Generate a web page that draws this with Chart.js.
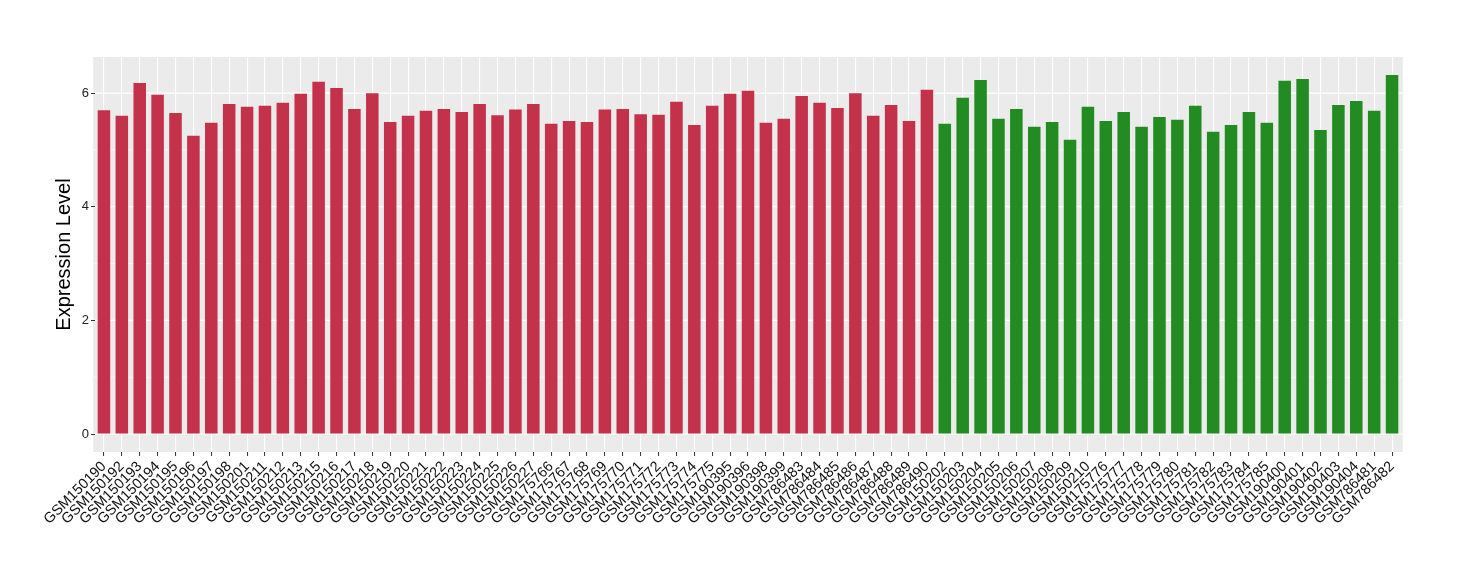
<!DOCTYPE html>
<html>
<head>
<meta charset="utf-8">
<script src="https://cdn.jsdelivr.net/npm/chart.js@4.4.1/dist/chart.umd.min.js"></script>
<style>
  html, body { margin: 0; padding: 0; background: #ffffff; }
  #wrap { width: 1460px; height: 580px; position: relative; }
</style>
</head>
<body>
<div id="wrap"><canvas id="c" width="1460" height="580"></canvas></div>
<script>
const groupASamples = ["GSM150190","GSM150192","GSM150193","GSM150194","GSM150195","GSM150196","GSM150197","GSM150198","GSM150201","GSM150211","GSM150212","GSM150213","GSM150215","GSM150216","GSM150217","GSM150218","GSM150219","GSM150220","GSM150221","GSM150222","GSM150223","GSM150224","GSM150225","GSM150226","GSM150227","GSM175766","GSM175767","GSM175768","GSM175769","GSM175770","GSM175771","GSM175772","GSM175773","GSM175774","GSM175775","GSM190395","GSM190396","GSM190398","GSM190399","GSM786483","GSM786484","GSM786485","GSM786486","GSM786487","GSM786488","GSM786489","GSM786490"];
const groupAValues = [5.70,5.60,6.18,5.97,5.65,5.25,5.48,5.81,5.76,5.78,5.83,5.99,6.20,6.09,5.72,6.00,5.49,5.60,5.69,5.72,5.67,5.81,5.61,5.71,5.81,5.46,5.51,5.49,5.71,5.72,5.63,5.62,5.85,5.44,5.78,5.99,6.04,5.48,5.55,5.95,5.83,5.74,6.00,5.60,5.79,5.51,6.06];
const groupBSamples = ["GSM150202","GSM150203","GSM150204","GSM150205","GSM150206","GSM150207","GSM150208","GSM150209","GSM150210","GSM175776","GSM175777","GSM175778","GSM175779","GSM175780","GSM175781","GSM175782","GSM175783","GSM175784","GSM175785","GSM190400","GSM190401","GSM190402","GSM190403","GSM190404","GSM786481","GSM786482"];
const groupBValues = [5.46,5.92,6.23,5.55,5.72,5.41,5.49,5.18,5.76,5.51,5.67,5.41,5.58,5.53,5.78,5.32,5.44,5.67,5.48,6.22,6.25,5.35,5.79,5.86,5.69,6.32];
const yTickValues = [0,1,2,3,4,5,6];
const yLabelValues = [0,2,4,6];
const yTitle = "Expression Level";

const categories = groupASamples.concat(groupBSamples);
const dataA = groupAValues.concat(groupBSamples.map(() => null));
const dataB = groupASamples.map(() => null).concat(groupBValues);
const yMin = -0.316, yMax = 6.636;

const panelPlugin = {
  id: 'panel',
  beforeDraw(chart) {
    const {ctx, chartArea, scales} = chart;
    const ext = (chartArea.right - chartArea.left) / categories.length * 0.1;
    const left = chartArea.left - ext, right = chartArea.right + ext;
    ctx.save();
    ctx.fillStyle = '#EBEBEB';
    ctx.fillRect(left, chartArea.top, right - left, chartArea.bottom - chartArea.top);
    ctx.strokeStyle = '#FFFFFF';
    yTickValues.forEach(v => {
      const y = scales.y.getPixelForValue(v);
      const major = yLabelValues.includes(v);
      ctx.lineWidth = major ? 1.1 : 0.55;
      ctx.beginPath();
      ctx.moveTo(left, y);
      ctx.lineTo(right, y);
      ctx.stroke();
    });
    ctx.restore();
  }
};

new Chart(document.getElementById('c'), {
  type: 'bar',
  data: {
    labels: categories,
    datasets: [
      { data: dataA, backgroundColor: '#C3314A', barPercentage: 0.7, categoryPercentage: 1.0, grouped: false },
      { data: dataB, backgroundColor: '#228B22', barPercentage: 0.7, categoryPercentage: 1.0, grouped: false }
    ]
  },
  options: {
    responsive: false,
    animation: false,
    devicePixelRatio: 1,
    layout: { padding: { left: 52, top: 57, right: 59, bottom: 0 } },
    plugins: { legend: { display: false }, tooltip: { enabled: false } },
    scales: {
      x: {
        type: 'category',
        offset: true,
        grid: {
          offset: false,
          color: '#FFFFFF',
          lineWidth: 1.1,
          drawTicks: true,
          tickLength: 4,
          tickColor: '#333333',
          tickWidth: 1
        },
        border: { display: false },
        ticks: {
          autoSkip: false,
          maxRotation: 45,
          minRotation: 45,
          padding: 2,
          color: '#111111',
          font: { family: '"Liberation Sans", Arial, Helvetica, sans-serif', size: 14.5 }
        },
        afterFit(scale) { scale.height = 128; }
      },
      y: {
        min: yMin,
        max: yMax,
        grid: {
          drawOnChartArea: false,
          drawTicks: true,
          tickLength: 4,
          tickColor: (c) => yLabelValues.includes(c.tick && c.tick.value) ? '#333333' : 'rgba(0,0,0,0)',
          tickWidth: 1
        },
        border: { display: false },
        afterBuildTicks(scale) { scale.ticks = yTickValues.map(v => ({ value: v })); },
        ticks: {
          padding: 2,
          color: '#222222',
          font: { family: '"Liberation Sans", Arial, Helvetica, sans-serif', size: 13 },
          callback: (v) => yLabelValues.includes(v) ? String(v) : ''
        },
        title: {
          display: true,
          text: yTitle,
          color: '#000000',
          padding: { top: 0, bottom: 0 },
          font: { family: '"Liberation Sans", Arial, Helvetica, sans-serif', size: 20 }
        },
        afterFit(scale) { scale.width = 43; }
      }
    }
  },
  plugins: [panelPlugin]
});
</script>
</body>
</html>
